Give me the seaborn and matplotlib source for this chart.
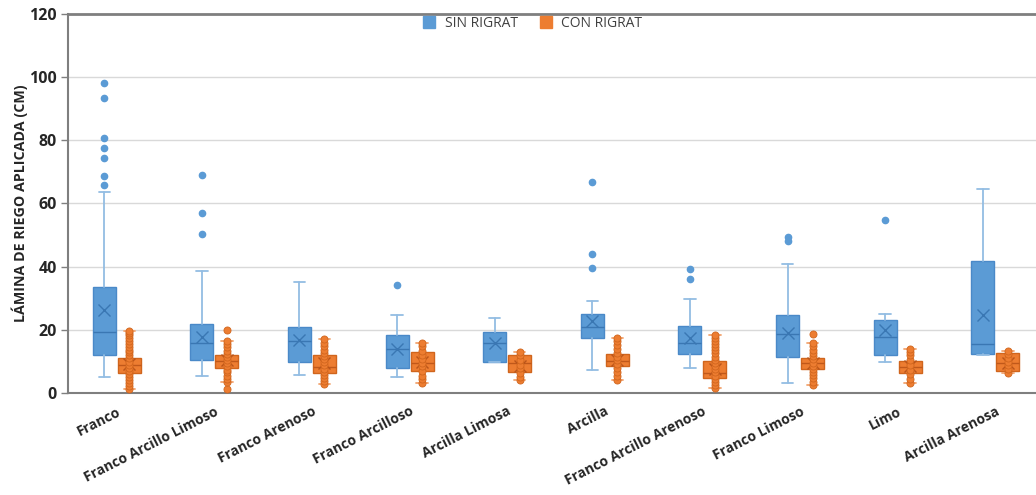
import pandas as pd
import seaborn as sns
import matplotlib.pyplot as plt
from matplotlib.lines import Line2D

categorias = ["Franco", "Franco Arcillo Limoso", "Franco Arenoso", "Franco Arcilloso",
              "Arcilla Limosa", "Arcilla", "Franco Arcillo Arenoso", "Franco Limoso",
              "Limo", "Arcilla Arenosa"]

# SIN RIGRAT (cajas + atipicos)
sin_min = [5.2, 5.6, 5.7, 5.2, 9.8, 7.3, 7.9, 3.1, 10.0, 12.0]
sin_q1 = [12.1, 10.4, 9.9, 8.1, 10.0, 17.4, 12.3, 11.5, 12.1, 12.5]
sin_med = [19.5, 15.8, 16.5, 13.9, 16.0, 21.1, 16.0, 18.6, 17.9, 15.5]
sin_q3 = [33.5, 21.8, 21.1, 18.4, 19.4, 25.2, 21.2, 24.8, 23.2, 41.9]
sin_max = [63.5, 38.6, 35.2, 24.8, 23.7, 29.2, 29.8, 40.8, 25.2, 64.6]
sin_media = [26.4, 17.8, 16.8, 14.0, 15.9, 22.7, 17.4, 19.2, 20.0, 24.7]
sin_atipicos = [[98.0, 93.4, 80.7, 77.6, 74.4, 68.7, 65.9], [69.1, 56.9, 50.2], [],
                [34.3], [], [66.9, 43.9, 39.6], [39.4, 36.0], [49.5, 48.0], [54.7], []]

# CON RIGRAT (cajas + puntos)
con_min = [1.5, 3.6, 2.8, 3.4, 4.1, 4.3, 1.6, 2.7, 3.2, 6.5]
con_q1 = [6.5, 8.1, 6.5, 6.9, 6.8, 8.6, 4.9, 7.6, 6.5, 6.9]
con_med = [8.9, 10.2, 8.4, 9.5, 9.5, 10.2, 6.3, 9.5, 8.4, 9.7]
con_q3 = [11.1, 12.2, 12.0, 13.2, 12.0, 12.5, 10.3, 11.3, 10.2, 12.7]
con_max = [19.7, 16.6, 17.0, 15.9, 13.1, 17.6, 18.5, 15.8, 14.1, 13.3]
con_media = [9.2, 10.5, 9.5, 10.0, 8.7, 10.5, 7.6, 9.5, 8.5, 9.5]
con_puntos = [
    [1.5, 2.4, 3.3, 4.2, 5.1, 6.0, 7.0, 8.0, 9.0, 10.0, 11.0, 12.0, 12.9, 13.8, 14.7, 15.6, 16.5, 17.4, 18.3, 19.0, 19.7],
    [1.4, 3.6, 4.6, 5.6, 6.6, 7.5, 8.5, 9.5, 10.5, 11.5, 12.5, 13.5, 14.5, 15.5, 16.6, 19.9],
    [2.8, 3.8, 4.8, 5.8, 6.8, 7.8, 8.8, 9.8, 10.8, 11.8, 12.8, 13.8, 14.8, 15.9, 17.0],
    [3.4, 4.4, 5.6, 7.0, 8.5, 9.5, 10.8, 12.0, 13.5, 14.8, 15.9],
    [4.1, 5.2, 6.5, 8.0, 9.0, 10.5, 12.0, 13.1],
    [4.3, 5.5, 6.8, 8.0, 9.2, 10.4, 11.6, 12.8, 14.0, 15.2, 16.4, 17.6],
    [1.6, 2.6, 3.6, 4.6, 5.6, 6.6, 7.6, 8.6, 9.6, 10.6, 11.6, 12.6, 13.6, 14.6, 15.6, 16.6, 17.6, 18.5],
    [2.7, 3.7, 4.7, 5.7, 6.7, 7.7, 8.7, 9.7, 10.7, 11.7, 12.7, 13.8, 14.8, 15.8, 18.8],
    [3.2, 4.5, 6.0, 7.5, 9.0, 10.5, 12.0, 13.2, 14.1],
    [6.5, 7.6, 8.8, 10.0, 11.2, 12.4, 13.3],
]

azul = "#5B9BD5"
naranja = "#ED7D31"

sns.set_theme(style="white")
plt.rcParams["font.family"] = ["Open Sans", "DejaVu Sans"]

fig = plt.figure(figsize=(10.36, 4.95), dpi=100)
ax = fig.add_axes([0.0656, 0.2055, 0.9422, 0.7672])

desp = 0.128
ancho = 0.235
pos = list(range(len(categorias)))

stats_sin = [dict(whislo=a, q1=b, med=c, q3=d, whishi=e, mean=f, fliers=g)
             for a, b, c, d, e, f, g in zip(sin_min, sin_q1, sin_med, sin_q3, sin_max, sin_media, sin_atipicos)]
stats_con = [dict(whislo=a, q1=b, med=c, q3=d, whishi=e, mean=f, fliers=[])
             for a, b, c, d, e, f in zip(con_min, con_q1, con_med, con_q3, con_max, con_media)]

ax.bxp(stats_sin, positions=[p - desp for p in pos], widths=ancho, patch_artist=True,
       showmeans=True, manage_ticks=False,
       boxprops=dict(facecolor=azul, edgecolor="#4A89C8", linewidth=1),
       medianprops=dict(color="#3A77B3", linewidth=1),
       whiskerprops=dict(color="#93BDE3", linewidth=1.3),
       capprops=dict(color="#93BDE3", linewidth=1.3),
       meanprops=dict(marker="x", markeredgecolor="#3A77B3", markersize=8, markeredgewidth=1),
       flierprops=dict(marker="o", markerfacecolor=azul, markeredgecolor=azul, markersize=4.5),
       zorder=3)
ax.bxp(stats_con, positions=[p + desp for p in pos], widths=ancho, patch_artist=True,
       showmeans=True, manage_ticks=False,
       boxprops=dict(facecolor=naranja, edgecolor="#D0651D", linewidth=1),
       medianprops=dict(color="#C0581A", linewidth=1),
       whiskerprops=dict(color="#F2A46F", linewidth=1.3),
       capprops=dict(color="#F2A46F", linewidth=1.3),
       meanprops=dict(marker="x", markeredgecolor="#B9541A", markersize=8, markeredgewidth=1),
       zorder=3)

puntos = pd.DataFrame([(i + desp, v) for i, lst in enumerate(con_puntos) for v in lst],
                      columns=["x", "valor"])
sns.scatterplot(data=puntos, x="x", y="valor", ax=ax, color=naranja, s=26,
                edgecolor="#D0651D", linewidth=0.6, zorder=4)

ax.set_xlim(-0.5, 9.5)
ax.set_ylim(0, 120)
ax.set_yticks(range(0, 121, 20))
ax.set_xticks(pos)
ax.set_xticklabels(categorias, rotation=27, ha="right", rotation_mode="anchor",
                   fontsize=10, fontweight="bold", color="#262626")
ax.tick_params(axis="x", length=0, pad=8)
ax.tick_params(axis="y", length=5, width=1, color="#7F7F7F", direction="out",
               labelsize=11.5, labelcolor="#262626", pad=3, left=True)
for t in ax.get_yticklabels():
    t.set_fontweight("bold")
ax.set_xlabel("")
ax.set_ylabel("LÁMINA DE RIEGO APLICADA (CM)", fontsize=10.3, fontweight="bold",
              color="#262626", labelpad=1)

for y in range(20, 120, 20):
    ax.axhline(y, color="#D9D9D9", linewidth=1, zorder=0)

for lado in ["left", "bottom", "top"]:
    ax.spines[lado].set_visible(True)
    ax.spines[lado].set_color("#7F7F7F")
    ax.spines[lado].set_linewidth(1.5)
ax.spines["top"].set_linewidth(2)
ax.spines["right"].set_visible(False)

manejadores = [Line2D([], [], marker="s", linestyle="", markersize=9, color=azul, label="SIN RIGRAT"),
               Line2D([], [], marker="s", linestyle="", markersize=9, color=naranja, label="CON RIGRAT")]
ax.legend(handles=manejadores, loc="upper center", bbox_to_anchor=(0.472, 1.0), ncol=2,
          frameon=False, fontsize=10, handletextpad=0.1, columnspacing=1.0,
          borderaxespad=0, borderpad=0.15, labelcolor="#404040")

fig.savefig("out.png", dpi=100)
